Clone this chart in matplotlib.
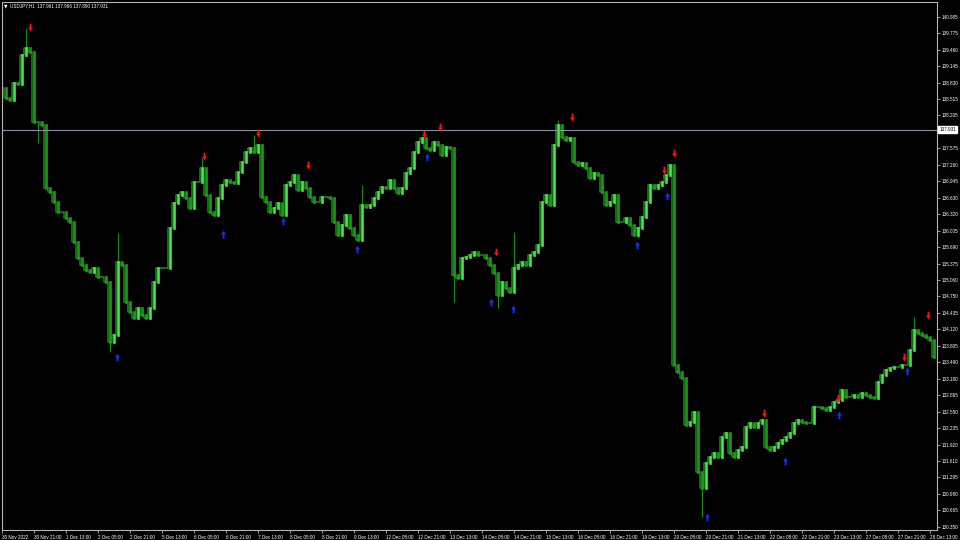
import numpy as np
import matplotlib.pyplot as plt
from matplotlib.path import Path
from matplotlib.transforms import blended_transform_factory

plt.rcParams['font.family'] = ['Liberation Sans', 'DejaVu Sans']

# USDJPY H1 - closes read every 2 bars
closes = [138.73, 138.54, 138.50, 138.83, 138.81, 139.36, 139.49, 139.42, 138.08, 138.08,
          138.02, 136.82, 136.74, 136.55, 136.36, 136.36, 136.25, 136.17, 135.79, 135.48,
          135.35, 135.26, 135.22, 135.29, 135.12, 135.12, 135.03, 133.88, 134.01, 135.41,
          135.35, 134.64, 134.45, 134.34, 134.53, 134.40, 134.34, 134.53, 135.03, 135.29,
          135.29, 135.29, 136.06, 136.53, 136.69, 136.74, 136.63, 136.44, 136.94, 136.94,
          137.20, 136.69, 136.36, 136.31, 136.63, 136.88, 136.97, 136.94, 136.92, 137.13,
          137.32, 137.51, 137.58, 137.51, 137.64, 136.65, 136.55, 136.36, 136.44, 136.53,
          136.31, 136.88, 136.94, 137.07, 136.78, 136.94, 136.82, 136.65, 136.55, 136.55,
          136.65, 136.65, 136.63, 136.17, 135.92, 136.12, 136.31, 136.06, 135.92, 135.83,
          136.50, 136.46, 136.50, 136.63, 136.74, 136.84, 136.82, 136.97, 136.82, 136.73,
          136.82, 137.11, 137.20, 137.51, 137.70, 137.77, 137.58, 137.55, 137.70, 137.64,
          137.45, 137.60, 137.58, 135.16, 135.10, 135.48, 135.50, 135.54, 135.60, 135.54,
          135.54, 135.48, 135.35, 135.20, 134.78, 135.03, 134.91, 134.84, 135.29, 135.35,
          135.41, 135.35, 135.54, 135.60, 135.73, 136.55, 136.69, 136.50, 137.64, 138.02,
          137.79, 137.74, 137.77, 137.32, 137.26, 137.30, 137.20, 137.01, 137.11, 137.07,
          136.74, 136.50, 136.55, 136.69, 136.17, 136.17, 136.25, 136.12, 135.92, 136.06,
          136.27, 136.55, 136.88, 136.82, 136.88, 136.94, 137.07, 137.26, 133.44, 133.31,
          133.19, 132.30, 132.35, 132.55, 131.40, 131.09, 131.57, 131.69, 131.76, 131.69,
          132.07, 132.14, 131.76, 131.69, 131.82, 131.88, 132.26, 132.33, 132.26, 132.33,
          132.39, 131.88, 131.82, 131.88, 131.95, 132.01, 132.07, 132.14, 132.33, 132.39,
          132.35, 132.33, 132.33, 132.64, 132.64, 132.62, 132.58, 132.64, 132.74, 132.77,
          132.96, 132.83, 132.83, 132.87, 132.83, 132.91, 132.87, 132.83, 132.81, 133.12,
          133.25, 133.35, 133.38, 133.40, 133.40, 133.44, 133.44, 133.73, 134.11, 134.05,
          134.01, 133.98, 133.92, 133.59]

# long wicks (bar index, price)
wick_bar = [12, 18, 54, 58, 100, 126, 180, 226, 248, 256, 278, 318, 350, 456]
wick_price = [139.87, 137.68, 133.69, 135.96, 137.39, 137.83, 136.88, 134.64, 134.53,
              135.98, 138.12, 135.86, 130.54, 134.36]

# fractals
frac_up_bar = [14, 101, 128, 153, 211, 219, 247, 285, 331, 336, 381, 418, 451, 463]
frac_up_price = [139.89, 137.43, 137.87, 137.26, 137.85, 137.98, 135.60, 138.18, 137.16,
                 137.49, 132.53, 132.81, 133.59, 134.40]
frac_dn_bar = [57.5, 110.5, 140.5, 177.5, 212.5, 244.5, 255.5, 317.5, 332.5, 352.5, 391.5,
               418.5, 452.5]
frac_dn_price = [133.59, 135.94, 136.19, 135.66, 137.41, 134.64, 134.51, 135.73, 136.67,
                 130.54, 131.61, 132.49, 133.33]

price_ticks = [140.085, 139.775, 139.460, 139.145, 138.830, 138.515, 138.205, 137.575,
               137.260, 136.945, 136.630, 136.320, 136.005, 135.690, 135.375, 135.060,
               134.750, 134.435, 134.120, 133.805, 133.490, 133.180, 132.865, 132.550,
               132.235, 131.920, 131.610, 131.295, 130.980, 130.665, 130.350]
time_labels = ["30 Nov 2022", "30 Nov 21:00", "1 Dec 13:00", "2 Dec 05:00", "2 Dec 21:00",
               "5 Dec 13:00", "6 Dec 05:00", "6 Dec 21:00", "7 Dec 13:00", "8 Dec 05:00",
               "8 Dec 21:00", "9 Dec 13:00", "12 Dec 05:00", "12 Dec 21:00", "13 Dec 13:00",
               "14 Dec 05:00", "14 Dec 21:00", "15 Dec 13:00", "16 Dec 05:00", "16 Dec 21:00",
               "19 Dec 13:00", "20 Dec 05:00", "20 Dec 21:00", "21 Dec 13:00", "22 Dec 05:00",
               "22 Dec 21:00", "23 Dec 13:00", "27 Dec 05:00", "27 Dec 21:00", "28 Dec 13:00"]
last_price = 137.931
header = "USDJPY,H1  137.961 137.996 137.890 137.931"

fig = plt.figure(figsize=(9.6, 5.4), dpi=100, facecolor='black')
ax = fig.add_axes([1.7/960, 1-529.5/540, (936.5-1.7)/960, (529.5-1.7)/540], facecolor='black')

c = np.array(closes)
x = np.arange(len(c)) * 2
o = np.r_[c[0], c[:-1]]
up = c >= o

# bar connector + wicks
ax.step(x, c, where='mid', color='#178c17', lw=1.1)
for b, p in zip(wick_bar, wick_price):
    k = int(round(b / 2))
    ax.vlines(x[k], min(c[k], p), max(c[k], p), color='#168a16', lw=0.8)
ax.vlines(x[~up], o[~up], c[~up], color='#1f9a1f', lw=1.9, capstyle='projecting')
ax.vlines(x[up], o[up], c[up], color='#4fe04f', lw=1.9, capstyle='projecting')

# arrows
dn = Path([(-0.25, 1), (0.25, 1), (0.25, 0), (0.65, 0), (0, -1), (-0.65, 0), (-0.25, 0), (-0.25, 1)],
          [1, 2, 2, 2, 2, 2, 2, 79])
upa = Path([(-0.25, -1), (0.25, -1), (0.25, 0), (0.65, 0), (0, 1), (-0.65, 0), (-0.25, 0), (-0.25, -1)],
           [1, 2, 2, 2, 2, 2, 2, 79])
ax.scatter(frac_up_bar, frac_up_price, marker=dn, s=30, color='#ff1010', lw=0, zorder=5)
ax.scatter(frac_dn_bar, frac_dn_price, marker=upa, s=30, color='#1030ff', lw=0, zorder=5)

ax.axhline(last_price, color='#8c8ca4', lw=0.8)

ax.set_xlim(-0.15, 467.25)
ax.set_ylim(130.301, 140.377)

ax.yaxis.tick_right()
ax.set_yticks(price_ticks)
ax.set_yticklabels(['%.3f' % v for v in price_ticks])
ax.set_xticks(np.arange(len(time_labels)) * 16)
ax.set_xticklabels(time_labels, ha='left')
ax.tick_params(axis='both', color='#b4b4b4', labelcolor='white', labelsize=3.3, length=2.5,
               width=0.6, pad=1.2)
for s in ax.spines.values():
    s.set_color('#b4b4b4')
    s.set_linewidth(0.8)

tr = blended_transform_factory(ax.transAxes, ax.transData)
ax.text(1.003, last_price, '%.3f' % last_price, transform=tr, ha='left', va='center',
        fontsize=3.3, color='black', bbox=dict(fc='white', ec='white', pad=0.8))

fig.text(4/960, 1-6/540, u'\u25bc ', fontsize=3.3, color='white', va='center',
         family=['DejaVu Sans'])
fig.text(10/960, 1-6/540, header, fontsize=3.3, color='white', va='center')

plt.savefig('out.png', dpi=100, facecolor='black')
